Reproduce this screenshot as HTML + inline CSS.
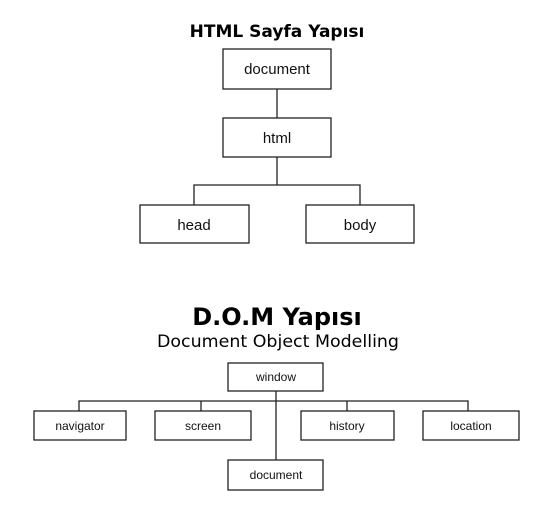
<!DOCTYPE html>
<html><head><meta charset="utf-8"><style>
html,body{margin:0;padding:0;background:#fff;}
svg{display:block;}
.t{font-family:"DejaVu Sans",sans-serif;fill:#000;}
.l{font-family:"Liberation Sans Narrow","Liberation Sans",sans-serif;fill:#111;}
</style></head><body>
<svg width="554" height="511" viewBox="0 0 554 511" xmlns="http://www.w3.org/2000/svg">
<g fill="#fff" stroke="#222" stroke-width="1.3">
<rect x="223" y="49" width="108" height="40"/>
<rect x="223" y="118" width="108" height="39"/>
<rect x="140" y="205" width="109" height="38"/>
<rect x="306" y="205" width="108" height="38"/>
<rect x="228" y="363" width="95" height="28"/>
<rect x="34" y="411" width="92" height="29"/>
<rect x="155" y="411" width="96" height="29"/>
<rect x="301" y="411" width="93" height="29"/>
<rect x="423" y="411" width="96" height="29"/>
<rect x="228" y="460" width="95" height="30"/>
</g>
<g stroke="#222" stroke-width="1.3" fill="none">
<line x1="277" y1="89" x2="277" y2="118"/>
<line x1="277" y1="157" x2="277" y2="185"/>
<polyline points="194,205 194,185 360,185 360,205"/>
<line x1="276" y1="391" x2="276" y2="460"/>
<polyline points="79,411 79,401 468,401 468,411"/>
<line x1="201" y1="401" x2="201" y2="411"/>
<line x1="347" y1="401" x2="347" y2="411"/>
</g>
<text class="t" x="277" y="37" font-size="17" font-weight="bold" text-anchor="middle">HTML Sayfa Yapısı</text>
<text class="t" x="277" y="325" font-size="24" font-weight="bold" text-anchor="middle">D.O.M Yapısı</text>
<text class="t" x="278" y="347" font-size="17" text-anchor="middle" textLength="242" lengthAdjust="spacingAndGlyphs">Document Object Modelling</text>
<g class="l" text-anchor="middle" font-size="15">
<text x="277" y="74">document</text>
<text x="277" y="143">html</text>
<text x="194" y="230">head</text>
<text x="360" y="230">body</text>
</g>
<g class="l" text-anchor="middle" font-size="12">
<text x="276" y="381">window</text>
<text x="80" y="430">navigator</text>
<text x="203" y="430">screen</text>
<text x="347" y="430">history</text>
<text x="471" y="430">location</text>
<text x="276" y="479">document</text>
</g>
</svg>
</body></html>
